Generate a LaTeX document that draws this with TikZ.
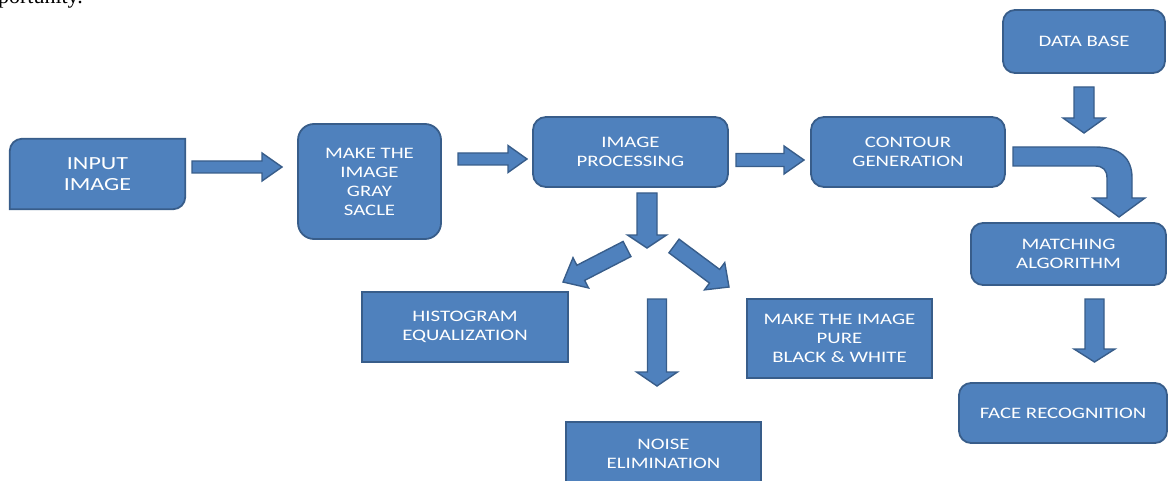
\documentclass[tikz,border=0pt]{standalone}
\usepackage{fontspec}
\setmainfont{Carlito}[FakeStretch=1.3]
\newfontfamily\serifdoc{Liberation Serif}
\usetikzlibrary{calc,backgrounds}
\definecolor{boxfill}{HTML}{4F81BD}
\definecolor{boxline}{HTML}{385D8A}
\tikzset{
  boxsty/.style={fill=boxfill, draw=boxline, line width=1.8pt},
  arrsty/.style={fill=boxfill, draw=boxline, line width=1.4pt, line join=miter},
  lbl/.style={text=white, align=center, inner sep=0pt, font=\fontsize{16}{19}\selectfont},
}
\newcommand{\blockarrow}[5]{%
  \path ($(#2)!#5!(#1)$) coordinate (ba-base);
  \draw[arrsty] ($(#1)!#3!90:(#2)$) -- ($(ba-base)!#3!90:(#2)$) -- ($(ba-base)!#4!90:(#2)$) -- (#2)
     -- ($(ba-base)!#4!-90:(#2)$) -- ($(ba-base)!#3!-90:(#2)$) -- ($(#1)!#3!-90:(#2)$) -- cycle;}
\begin{document}
\begin{tikzpicture}[x=1pt,y=-1pt]
\useasboundingbox (0,0) rectangle (1169,481);
\clip (0,0) rectangle (1169,481);

% cut-off text of the surrounding page
\node[font=\serifdoc\fontsize{22}{22}\selectfont, anchor=base east, inner sep=0pt] (ptext) at (83,4) {portunity.};

% boxes
\node[lbl, font=\fontsize{18.5}{21.5}\selectfont, minimum width=175pt, minimum height=70pt] (in) at (97.5,174) {INPUT\\IMAGE};
\begin{scope}[on background layer]
\draw[boxsty] (in.south west) -- ($(in.north west)+(0,12)$)
    .. controls ($(in.north west)+(0,5.4)$) and ($(in.north west)+(5.4,0)$) .. ($(in.north west)+(12,0)$)
  -- (in.north east) -- ($(in.south east)+(0,-12)$)
    .. controls ($(in.south east)+(0,-5.4)$) and ($(in.south east)+(-5.4,0)$) .. ($(in.south east)+(-12,0)$)
  -- cycle;
\end{scope}

\node[boxsty, lbl, rounded corners=16pt, minimum width=143pt, minimum height=115pt] (gray) at (369.5,181.5) {MAKE THE\\IMAGE\\GRAY\\SACLE};
\node[boxsty, lbl, rounded corners=13pt, minimum width=195pt, minimum height=70pt] (ip) at (630.5,152) {IMAGE\\PROCESSING};
\node[boxsty, lbl, rounded corners=13pt, minimum width=194pt, minimum height=70pt] (cg) at (908,152) {CONTOUR\\GENERATION};
\node[boxsty, lbl, rounded corners=12pt, minimum width=162pt, minimum height=63pt] (db) at (1084,41.5) {DATA BASE};
\node[boxsty, lbl, rounded corners=12pt, minimum width=195pt, minimum height=62pt] (ma) at (1068.5,254) {MATCHING\\ALGORITHM};
\node[boxsty, lbl, rounded corners=12pt, minimum width=208pt, minimum height=60pt] (fr) at (1063,413) {FACE RECOGNITION};
\node[boxsty, lbl, minimum width=206pt, minimum height=70pt] (he) at (465,327) {HISTOGRAM\\EQUALIZATION};
\node[boxsty, lbl, minimum width=185pt, minimum height=79pt] (bw) at (839.5,338.5) {MAKE THE IMAGE\\PURE\\BLACK \& WHITE};
\node[boxsty, lbl, minimum width=195pt, minimum height=64pt] (ne) at (663.5,454) {NOISE\\ELIMINATION};

% arrow end points
\coordinate (a1s) at (192,167);   \coordinate (a1e) at (282,167);
\coordinate (a2s) at (458,159);   \coordinate (a2e) at (527,159);
\coordinate (a3s) at (736,160);   \coordinate (a3e) at (804,160);
\coordinate (a4s) at (647,193);   \coordinate (a4e) at (647,248);
\coordinate (a5s) at (627,249);   \coordinate (a5e) at (563,282);
\coordinate (a6s) at (674,246);   \coordinate (a6e) at (729,287);
\coordinate (a7s) at (657,299);   \coordinate (a7e) at (657,386);
\coordinate (a8s) at (1084,87);   \coordinate (a8e) at (1084,133);
\coordinate (a9s) at (1094.5,299);\coordinate (a9e) at (1094.5,362);

\blockarrow{a1s}{a1e}{6pt}{14pt}{20pt}
\blockarrow{a2s}{a2e}{6pt}{13.5pt}{19pt}
\blockarrow{a3s}{a3e}{6.5pt}{14pt}{20pt}
\blockarrow{a4s}{a4e}{10pt}{19.5pt}{13pt}
\blockarrow{a5s}{a5e}{8.5pt}{17pt}{20pt}
\blockarrow{a6s}{a6e}{8.5pt}{17pt}{18pt}
\blockarrow{a7s}{a7e}{9.5pt}{20.5pt}{14pt}
\blockarrow{a8s}{a8e}{10pt}{21pt}{15pt}
\blockarrow{a9s}{a9e}{9.5pt}{20.5pt}{13pt}

% bent arrow from contour generation down to matching algorithm
\coordinate (bs) at (1013,147);
\coordinate (be) at (1119,217);
\draw[arrsty] (bs) -- (1095,147) .. controls (1120,147) and (1132,158) .. (1132,178) -- (1132,198)
  -- (1145,198) -- (be) -- (1093,198) -- (1107,198) -- (1107,178)
  .. controls (1107,170) and (1103,166) .. (1095,166) -- (1013,166) -- cycle;
\end{tikzpicture}
\end{document}
